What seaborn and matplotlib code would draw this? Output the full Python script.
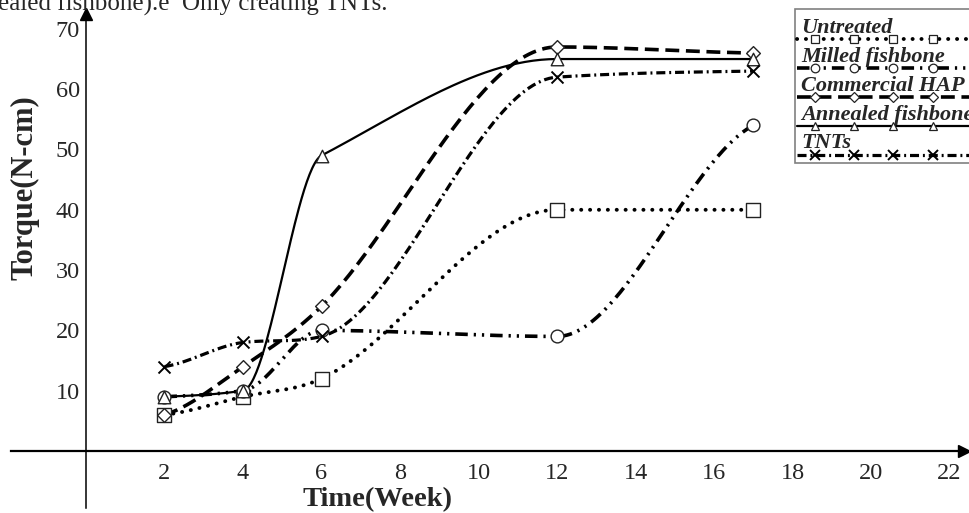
import numpy as np
import matplotlib
matplotlib.use("Agg")
import matplotlib.pyplot as plt
from matplotlib.lines import Line2D
from matplotlib.patches import Rectangle
import seaborn as sns

# values
weeks = [2, 4, 6, 12, 17]
untreated = [6, 9, 12, 40, 40]
milled_fishbone = [9, 10, 20, 19, 54]
commercial_hap = [6, 14, 24, 67, 66]
annealed_fishbone = [9, 10, 49, 65, 65]
tnts = [14, 18, 19, 62, 63]

series_names = ["Untreated", "Milled fishbone", "Commercial HAP", "Annealed fishbone", "TNTs"]
series_values = [untreated, milled_fishbone, commercial_hap, annealed_fishbone, tnts]
x_ticks = [2, 4, 6, 8, 10, 12, 14, 16, 18, 20, 22]
y_ticks = [10, 20, 30, 40, 50, 60, 70]
caption = "ealed fishbone).e  Only creating TNTs."

# line / marker look per series
styles = {
    "Untreated": dict(ls=(0, (0.1, 6.3)), lw=2.8, cap="round", marker="s", ms=9.6, lms=6.2),
    "Milled fishbone": dict(ls=(0, (9.0, 4.3, 1.6, 4.3, 1.6, 4.3)), lw=2.6, cap="butt", marker="o", ms=9.2, lms=6.2),
    "Commercial HAP": dict(ls=(0, (10.0, 4.8)), lw=2.6, cap="butt", marker="D", ms=7.0, lms=4.6),
    "Annealed fishbone": dict(ls="-", lw=1.6, cap="butt", marker="^", ms=9.0, lms=6.4),
    "TNTs": dict(ls=(0, (6.5, 2.8, 1.4, 2.8)), lw=2.3, cap="butt", marker="x", ms=8.6, lms=7.0),
}


def smooth(xk, yk, n=60):
    # monotone cubic through the points, like the smoothed lines of the original
    x = np.asarray(xk, float)
    y = np.asarray(yk, float)
    h = np.diff(x)
    d = np.diff(y) / h
    m = np.zeros_like(x)
    for k in range(1, len(x) - 1):
        if d[k - 1] * d[k] > 0:
            m[k] = (h[k - 1] + h[k]) / (h[k - 1] / d[k - 1] + h[k] / d[k])
    m[0] = d[0] / 2
    m[-1] = d[-1] / 2
    xs, ys = [], []
    t = np.linspace(0, 1, n)
    for k in range(len(h)):
        h00 = 2 * t**3 - 3 * t**2 + 1
        h10 = t**3 - 2 * t**2 + t
        h01 = -2 * t**3 + 3 * t**2
        h11 = t**3 - t**2
        xs.append(x[k] + t * h[k])
        ys.append(h00 * y[k] + h10 * h[k] * m[k] + h01 * y[k + 1] + h11 * h[k] * m[k + 1])
    return np.concatenate(xs), np.concatenate(ys)


sns.set_style("white")
plt.rcParams["font.family"] = ["Liberation Serif", "DejaVu Serif"]
plt.rcParams["lines.scale_dashes"] = False

W, H = 970, 513
fig = plt.figure(figsize=(9.7, 5.13), dpi=100)
ax = fig.add_axes([0, 0, 1, 1])
ax.set_xlim(-2.191, 22.522)
ax.set_ylim(-10.28, 74.79)

for name, vals in zip(series_names, series_values):
    st = styles[name]
    xs, ys = smooth(weeks, vals)
    sns.lineplot(x=xs, y=ys, sort=False, estimator=None, ax=ax, color="black",
                 linestyle=st["ls"], linewidth=st["lw"], dash_capstyle=st["cap"], zorder=3)
    if st["marker"] == "x":
        sns.scatterplot(x=weeks, y=vals, ax=ax, marker="x", s=st["ms"] ** 2,
                        color="black", linewidth=1.4, zorder=5)
    else:
        sns.scatterplot(x=weeks, y=vals, ax=ax, marker=st["marker"], s=st["ms"] ** 2,
                        color="white", edgecolor="#222222", linewidth=1.0, zorder=5)

# axes crossing at the origin, with arrow heads
for s in ["top", "right"]:
    ax.spines[s].set_visible(False)
ax.spines["left"].set_position(("data", 0))
ax.spines["bottom"].set_position(("data", 0))
ax.spines["left"].set_bounds(-9.5, 72.0)
ax.spines["bottom"].set_bounds(-1.92, 22.3)
ax.spines["left"].set_linewidth(1.1)
ax.spines["bottom"].set_linewidth(1.6)
ax.spines["left"].set_color("black")
ax.spines["bottom"].set_color("black")
ax.plot([22.37], [0], marker=">", ms=9, color="black", clip_on=False, zorder=6)
ax.plot([0], [72.4], marker="^", ms=9, color="black", clip_on=False, zorder=6)

ax.set_xticks(x_ticks)
ax.set_yticks(y_ticks)
ax.tick_params(direction="inout", length=5.8, width=0.8, color="black", labelsize=17.5)
ax.tick_params(axis="x", pad=6)
ax.tick_params(axis="y", pad=1.5)
ax.set_xlabel("")
ax.set_ylabel("")

fig.text(25 / W, 1 - 188 / H, "Torque(N-cm)", rotation=90, fontsize=22, fontweight="bold",
         ha="center", va="center")
fig.text(378 / W, 1 - 500 / H, "Time(Week)", fontsize=20.5, fontweight="bold",
         ha="center", va="center")
fig.text(388 / W, 1 - 11 / H, caption, fontsize=18, ha="right", va="baseline")

# hand-built legend box, cut by the right edge as in the original
fig.add_artist(Rectangle((795 / W, 1 - 163 / H), 200 / W, 154 / H, transform=fig.transFigure,
                         facecolor="white", edgecolor="#808080", linewidth=1.2, zorder=7))
text_base = [33, 62, 91, 120, 148]
line_y = [39, 68, 97, 126, 155]
marker_x = [815, 854, 893, 933]
for name, tb, ly in zip(series_names, text_base, line_y):
    st = styles[name]
    fig.text(801 / W, 1 - tb / H, name, fontsize=16, fontweight="bold", fontstyle="italic",
             ha="left", va="baseline", zorder=8)
    fig.add_artist(Line2D([797 / W, 1.0], [1 - ly / H, 1 - ly / H], transform=fig.transFigure,
                          color="black", linestyle=st["ls"], linewidth=st["lw"],
                          dash_capstyle=st["cap"], zorder=8))
    if st["marker"] == "x":
        fig.add_artist(Line2D([v / W for v in marker_x], [1 - ly / H] * 4, transform=fig.transFigure,
                              linestyle="none", marker="x", ms=st["lms"], mew=1.4,
                              color="black", zorder=9))
    else:
        fig.add_artist(Line2D([v / W for v in marker_x], [1 - ly / H] * 4, transform=fig.transFigure,
                              linestyle="none", marker=st["marker"], ms=st["lms"], mew=0.9,
                              mfc="white", mec="#222222", zorder=9))

fig.savefig("out.png", dpi=100)
